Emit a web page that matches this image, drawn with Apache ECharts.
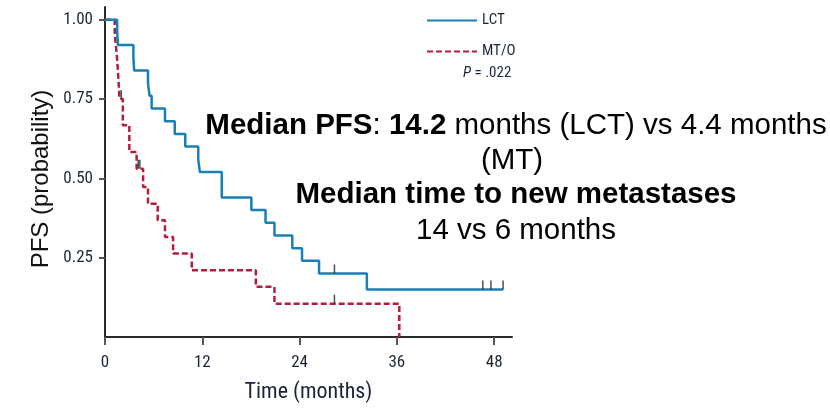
<!DOCTYPE html>
<html>
<head>
<meta charset="utf-8">
<script src="https://cdn.jsdelivr.net/npm/echarts@6/dist/echarts.min.js"></script>
<style>
html,body{margin:0;padding:0;background:#fff;}
#chart{width:830px;height:408px;}
</style>
</head>
<body>
<div id="chart"></div>
<script>
// ---- data (Kaplan-Meier steps: [month, survival after event]) ----
var lctCurve = [[0,1],[1.5,0.96],[1.6,0.92],[3.5,0.88],[3.6,0.84],[5.3,0.80],[5.5,0.76],[5.75,0.72],[7.4,0.68],[8.6,0.64],[9.9,0.60],[11.5,0.56],[11.7,0.52],[14.4,0.44],[18.05,0.40],[19.8,0.36],[20.9,0.32],[23.1,0.28],[24.3,0.24],[26.4,0.20],[32.3,0.15],[49.1,0.15]];
var mtoCurve = [[0,1],[1.2,0.958],[1.35,0.917],[1.5,0.875],[1.6,0.833],[1.7,0.792],[1.8,0.75],[2.2,0.667],[3.0,0.583],[3.9,0.53],[4.7,0.473],[5.3,0.42],[6.5,0.368],[7.4,0.315],[8.4,0.263],[10.7,0.21],[18.6,0.158],[20.9,0.105],[36.3,0]];
var lctCensored = [[28.3,0.20],[46.6,0.15],[47.6,0.15],[49.1,0.15]];
var mtoCensored = [[2.0,0.75],[4.1,0.53],[4.3,0.53],[28.3,0.105]];
var xTicks = [0,12,24,36,48];
var yTicks = [0.25,0.50,0.75,1.00];
var seriesNames = ['LCT','MT/O'];
var pValueText = '.022';
var annotationLines = [
  ['Median PFS', ': ', '14.2', ' months (LCT) vs 4.4 months'],
  ['(MT)'],
  ['Median time to new metastases'],
  ['14 vs 6 months']
];

var narrow = "'Liberation Sans Narrow','Roboto Condensed','DejaVu Sans Condensed',Roboto,sans-serif";
var arial = "'Liberation Sans',Arial,sans-serif";
var blue = '#1a7fb4';
var red = '#b41e3c';
var labelColor = '#1c2438';
var annSize = 29.5;

var chart = echarts.init(document.getElementById('chart'), null, {renderer:'canvas'});
var option = {
  animation: false,
  backgroundColor: '#fff',
  grid: {left:105, right:318, top:7, bottom:71, containLabel:false},
  legend: {
    orient:'vertical', left:421, top:8, itemWidth:50, itemHeight:14, itemGap:16,
    itemStyle:{opacity:0},
    textStyle:{fontFamily:narrow, fontSize:15, color:labelColor},
    data:[{name:seriesNames[0]},{name:seriesNames[1]}]
  },
  xAxis: {
    type:'value', min:0, max:50.2,
    axisLine:{show:true, onZero:false, lineStyle:{color:'#2a2a2a', width:2}},
    axisTick:{show:true, length:8, customValues:xTicks, lineStyle:{color:'#555', width:2}},
    axisLabel:{customValues:xTicks, margin:17, fontFamily:narrow, fontSize:17, color:labelColor},
    splitLine:{show:false},
    name:'Time (months)', nameLocation:'middle', nameGap:44,
    nameTextStyle:{fontFamily:narrow, fontSize:22, color:labelColor}
  },
  yAxis: {
    type:'value', min:0, max:1.04,
    axisLine:{show:true, lineStyle:{color:'#2a2a2a', width:2}},
    axisTick:{show:true, length:6, customValues:yTicks, lineStyle:{color:'#555', width:2}},
    axisLabel:{customValues:yTicks, margin:12, fontFamily:narrow, fontSize:17, color:labelColor,
      formatter:function(v){return v.toFixed(2);}},
    splitLine:{show:false},
    name:'PFS (probability)', nameLocation:'middle', nameGap:52, nameRotate:90,
    nameTextStyle:{fontFamily:arial, fontSize:24, color:'#111', padding:[0,14,0,0]}
  },
  series: [
    {name:seriesNames[0], type:'line', step:'end', data:lctCurve, symbol:'none', z:3,
      lineStyle:{color:blue, width:2.5}, itemStyle:{color:blue}},
    {name:seriesNames[1], type:'line', step:'end', data:mtoCurve, symbol:'none', z:2,
      lineStyle:{color:red, width:2.5, type:[6,3]}, itemStyle:{color:red}},
    {name:'lctCens', type:'scatter', data:lctCensored, symbol:'rect', symbolSize:[1.5,9], symbolOffset:[0,'-50%'],
      itemStyle:{color:'#222'}, z:4},
    {name:'mtoCens', type:'scatter', data:mtoCensored, symbol:'rect', symbolSize:[1.5,9], symbolOffset:[0,'-50%'],
      itemStyle:{color:'#222'}, z:4}
  ],
  graphic: [
    {type:'text', x:463, y:73, style:{
      text:'{i|P} = ' + pValueText, fill:labelColor, font:'15px ' + narrow, verticalAlign:'middle', align:'left',
      rich:{i:{fontStyle:'italic', fontFamily:narrow, fontSize:15, fill:labelColor}}
    }},
    {type:'text', x:516, y:126, style:{
      text:'{b|'+annotationLines[0][0]+'}{r|'+annotationLines[0][1]+'}{b|'+annotationLines[0][2]+'}{r|'+annotationLines[0][3]+'}',
      align:'center', verticalAlign:'middle', fill:'#000', fontSize:annSize, fontFamily:arial,
      rich:{b:{fontWeight:'bold', fontSize:annSize, fontFamily:arial, fill:'#000'}, r:{fontSize:annSize, fontFamily:arial, fill:'#000'}}
    }},
    {type:'text', x:512, y:161, style:{text:annotationLines[1][0], align:'center', verticalAlign:'middle', fill:'#000', fontSize:annSize, fontFamily:arial}},
    {type:'text', x:516, y:195, style:{text:annotationLines[2][0], align:'center', verticalAlign:'middle', fill:'#000', fontSize:annSize, fontWeight:'bold', fontFamily:arial}},
    {type:'text', x:516, y:231, style:{text:annotationLines[3][0], align:'center', verticalAlign:'middle', fill:'#000', fontSize:annSize, fontFamily:arial}}
  ]
};
chart.setOption(option);
</script>
</body>
</html>
